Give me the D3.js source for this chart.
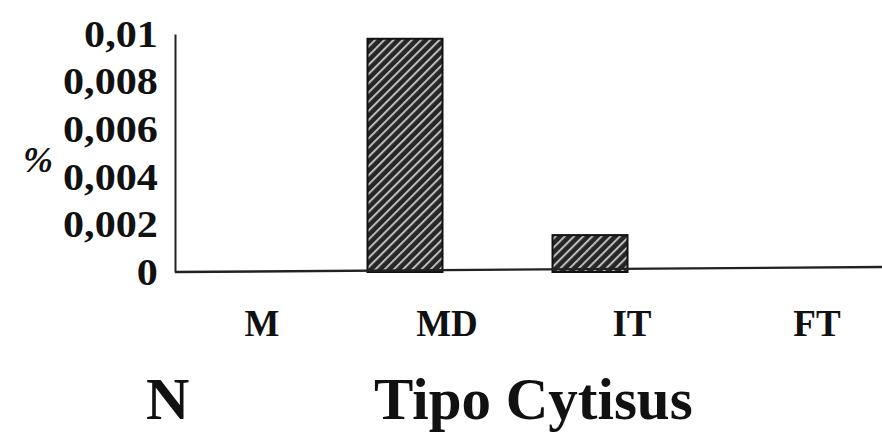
<!DOCTYPE html>
<html>
<head>
<meta charset="utf-8">
<script src="https://cdn.jsdelivr.net/npm/d3@7"></script>
<style>
  html, body { margin: 0; padding: 0; background: #fff; }
  svg { display: block; }
  text { font-family: "Liberation Serif", "DejaVu Serif", serif; font-weight: bold; fill: #111; }
</style>
</head>
<body>
<svg id="chart" width="882" height="436"></svg>
<script>
// Pollen share of the Cytisus type per sample class
const categories = ["M", "MD", "IT", "FT"];
const values = [0, 0.0098, 0.00155, 0];
const yTicks = [0, 0.002, 0.004, 0.006, 0.008, 0.01];
const yTickLabels = ["0", "0,002", "0,004", "0,006", "0,008", "0,01"];

const svg = d3.select("#chart");

const axisX = 175;
const y = d3.scaleLinear().domain([0, 0.01]).range([272, 34]);
const x = d3.scalePoint().domain(categories).range([220, 775]);
const barW = 75;

// Diagonal hatch used for the bars
const defs = svg.append("defs");
const pat = defs.append("pattern")
  .attr("id", "hatch")
  .attr("patternUnits", "userSpaceOnUse")
  .attr("width", 6.5).attr("height", 6.5)
  .attr("patternTransform", "rotate(45)");
pat.append("rect").attr("width", 6.5).attr("height", 6.5).attr("fill", "#262626");
pat.append("rect").attr("x", 0).attr("y", 0).attr("width", 2).attr("height", 6.5).attr("fill", "#bdbdbd");

// Bars
svg.append("g").selectAll("rect")
  .data(categories.map((c, i) => ({ c, v: values[i] })).filter(d => d.v > 0))
  .join("rect")
  .attr("x", d => x(d.c) - barW / 2)
  .attr("y", d => y(d.v))
  .attr("width", barW)
  .attr("height", d => y(0) - y(d.v))
  .attr("fill", "url(#hatch)")
  .attr("stroke", "#111")
  .attr("stroke-width", 2);

// Y axis
const yAxis = d3.axisLeft(y)
  .tickValues(yTicks)
  .tickFormat((d, i) => yTickLabels[i])
  .tickSize(0)
  .tickPadding(15);
const gy = svg.append("g").attr("transform", `translate(${axisX},0)`).call(yAxis);
gy.select(".domain").attr("stroke", "#222").attr("stroke-width", 2);
// wide, heavy tick numerals
gy.selectAll(".tick text")
  .style("font-size", "37px")
  .attr("fill", "#111")
  .attr("dy", "0.33em")
  .attr("transform", "scale(1.14,1)");

// Baseline
svg.append("line")
  .attr("x1", axisX).attr("x2", 882)
  .attr("y1", y(0)).attr("y2", y(0) - 5)
  .attr("stroke", "#222").attr("stroke-width", 2.4);

// Category labels
svg.append("g").selectAll("text")
  .data(categories)
  .join("text")
  .attr("x", d => x(d) + 42)
  .attr("y", 336)
  .attr("text-anchor", "middle")
  .style("font-size", "37px")
  .text(d => d);

// Y axis unit
svg.append("text")
  .attr("x", 38).attr("y", 172)
  .attr("text-anchor", "middle")
  .style("font-size", "36px")
  .style("font-style", "italic")
  .text("%");

// Panel letter and taxon name
svg.append("text")
  .attr("x", 146).attr("y", 419)
  .style("font-size", "60px")
  .text("N");
svg.append("text")
  .attr("x", 374).attr("y", 419)
  .style("font-size", "59px")
  .text("Tipo Cytisus");
</script>
</body>
</html>
